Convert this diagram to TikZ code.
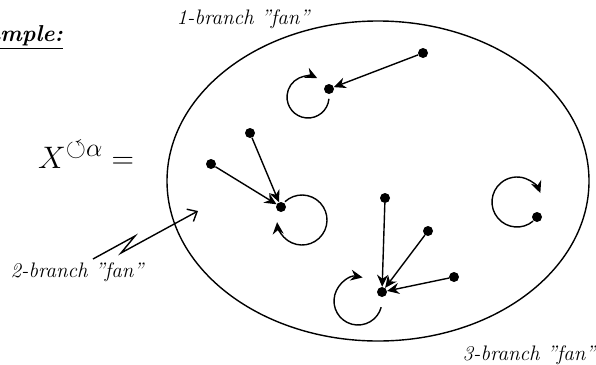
\documentclass[tikz,border=0pt]{standalone}
\usepackage{amssymb}
\usetikzlibrary{arrows.meta,calc}
\begin{document}
\begin{tikzpicture}[x=1pt,y=1pt,
  dot/.style={circle,fill=black,inner sep=0pt,minimum size=10pt},
  edgearrow/.style={line width=1.4pt,-{Stealth[length=12pt,width=11pt,inset=4pt]}},
  looparrow/.style={line width=1.4pt,-{Stealth[length=12pt,width=11pt,inset=4pt]}},
  lbl/.style={font=\fontsize{21}{24}\selectfont\itshape,inner sep=0pt}
]
\useasboundingbox (0,0) rectangle (596,-364);
% big ellipse
\draw[line width=1.4pt] (378,-181) ellipse [x radius=211, y radius=160];
% dots
\node[dot] (A1) at (423,-53) {};
\node[dot] (B1) at (329,-89) {};
\node[dot] (C1) at (250,-133) {};
\node[dot] (C2) at (211,-164) {};
\node[dot] (C)  at (281,-207) {};
\node[dot] (D)  at (382,-292) {};
\node[dot] (D1) at (385,-198) {};
\node[dot] (D2) at (428,-231) {};
\node[dot] (D3) at (454,-277) {};
\node[dot] (E)  at (537,-217) {};
% edges
\draw[edgearrow] (A1) -- (B1);
\draw[edgearrow] (C1) -- (C);
\draw[edgearrow] (C2) -- (C);
\draw[edgearrow] (D1) -- (D);
\draw[edgearrow] (D2) -- (D);
\draw[edgearrow] (D3) -- (D);
% loop centres
\coordinate (cB) at ($(B1)+(-21,-8)$);
\coordinate (cC) at ($(C)+(21,-13)$);
\coordinate (cD) at ($(D)+(-24,-9)$);
\coordinate (cE) at ($(E)+(-20,15)$);
% loops
\draw[looparrow] ($(cB)+(-5:21)$) arc[start angle=-5, end angle=-296, radius=21];
\draw[looparrow] ($(cC)+(133:25)$) arc[start angle=133, end angle=-175, radius=25];
\draw[looparrow] ($(cD)+(-15:24)$) arc[start angle=-15, end angle=-281, radius=24];
\draw[looparrow] ($(cE)+(-50:25)$) arc[start angle=-50, end angle=-339, radius=25];
% zigzag pointer
\coordinate (z0) at (93,-259);
\coordinate (z1) at (135,-236);
\coordinate (z2) at (121,-253);
\coordinate (z3) at (198,-211);
\draw[line width=1.4pt,-{Straight Barb[length=8pt,width=14pt]}] (z0) -- (z1) -- (z2) -- (z3);
% texts
\node[inner sep=0pt,anchor=base east,font=\fontsize{23}{26}\selectfont\itshape\bfseries] (ex) at (63,-41) {\underline{Example:}};
\node[lbl] (l1) at (243,-19) {1-branch "fan"};
\node[lbl] (l2) at (77,-272) {2-branch "fan"};
\node[lbl] (l3) at (529,-355) {3-branch "fan"};
\node[inner sep=0pt,anchor=base west] (eq) at (38,-168) {\scalebox{1.25}{\fontsize{24.88}{30}\selectfont$X^{\circlearrowleft\alpha}=$}};
\end{tikzpicture}
\end{document}
